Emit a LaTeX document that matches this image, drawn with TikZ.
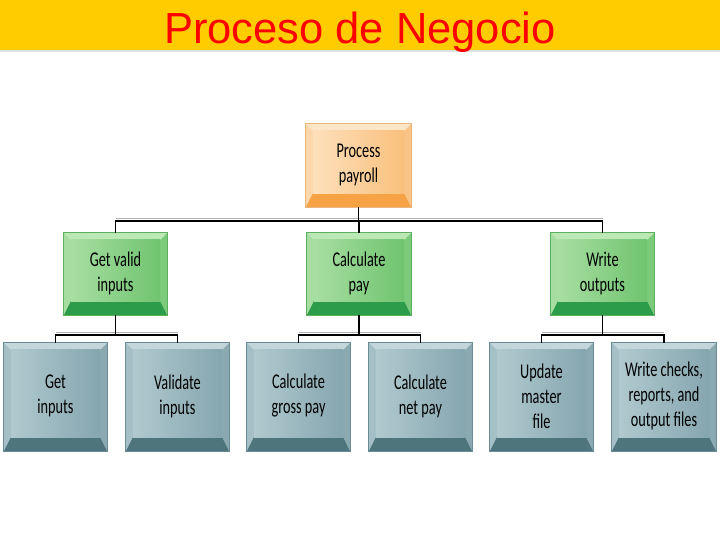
\documentclass[tikz,border=0pt]{standalone}
\usepackage{fontspec}
\setmainfont{Liberation Sans}
\newfontfamily\boxfont[FakeStretch=0.68]{Carlito}
\usetikzlibrary{calc}
\definecolor{titlebar}{HTML}{FFCC00}
\definecolor{titlered}{HTML}{FF0000}
% orange
\definecolor{otop}{HTML}{FDE6C8}\definecolor{oleft}{HTML}{FCD7AA}\definecolor{oright}{HTML}{F9C488}
\definecolor{obot}{HTML}{F7A245}\definecolor{ofl}{HTML}{FDE0BC}\definecolor{ofr}{HTML}{F9C07C}\definecolor{oline}{HTML}{EAB57A}
% green
\definecolor{gtop}{HTML}{BCE8B6}\definecolor{gleft}{HTML}{A6DDA0}\definecolor{gright}{HTML}{7CCB7A}
\definecolor{gbot}{HTML}{2C9C4A}\definecolor{gfl}{HTML}{A8DEA2}\definecolor{gfr}{HTML}{6FC46F}\definecolor{gline}{HTML}{5BAF5E}
% blue-gray
\definecolor{btop}{HTML}{C2D6DB}\definecolor{bleft}{HTML}{A5BFC6}\definecolor{bright}{HTML}{8AA9B1}
\definecolor{bbot}{HTML}{4E747C}\definecolor{bfl}{HTML}{B0C9CF}\definecolor{bfr}{HTML}{86A6AF}\definecolor{bline}{HTML}{6A8C94}
\tikzset{
  boxtext/.style={font=\boxfont\fontsize{21}{25}\selectfont, align=center, text=black, inner sep=0pt},
  conn/.style={draw=black, line width=1.6pt},
  connshadow/.style={draw=black!30, line width=1.6pt},
}
% #1 name, #2 x, #3 y, #4 width, #5 height, #6 colour prefix, #7 text
\newcommand\bevbox[7]{%
  \node[minimum width=#4pt, minimum height=#5pt, inner sep=0pt] (#1) at (#2,#3) {};
  \fill[#6top] (#1.north west) -- (#1.north east) -- ($(#1.north east)+(-7pt,-7pt)$) -- ($(#1.north west)+(7pt,-7pt)$) -- cycle;
  \fill[#6left] (#1.north west) -- ($(#1.north west)+(7pt,-7pt)$) -- ($(#1.south west)+(7pt,14pt)$) -- (#1.south west) -- cycle;
  \fill[#6right] (#1.north east) -- (#1.south east) -- ($(#1.south east)+(-7pt,14pt)$) -- ($(#1.north east)+(-7pt,-7pt)$) -- cycle;
  \fill[#6bot] (#1.south west) -- ($(#1.south west)+(7pt,14pt)$) -- ($(#1.south east)+(-7pt,14pt)$) -- (#1.south east) -- cycle;
  \shade[left color=#6fl, right color=#6fr] ($(#1.north west)+(7pt,-7pt)$) rectangle ($(#1.south east)+(-7pt,14pt)$);
  \draw[#6line, line width=0.8pt] (#1.north west) rectangle (#1.south east);
  \node[boxtext] (#1-t) at ($(#1.center)+(0,1pt)$) {#7};
}
\begin{document}
\begin{tikzpicture}[x=1pt, y=-1pt]
\useasboundingbox (0,0) rectangle (720,540);
\fill[white] (0,0) rectangle (720,540);
% title bar
\fill[titlebar] (0,0) rectangle (720,50);
\fill[black!12] (0,50) rectangle (720,52);
\node[anchor=base, text=titlered, font=\fontsize{43.5}{50}\selectfont, inner sep=0pt] (title) at (360,43.5) {Proceso de Negocio};

% boxes
\bevbox{pp}{358.5}{165.5}{105}{83}{o}{Process\\payroll}
\bevbox{gv}{115.5}{274}{103}{82}{g}{Get valid\\inputs}
\bevbox{cp}{359}{274}{104}{82}{g}{Calculate\\pay}
\bevbox{wo}{602.5}{274}{103}{82}{g}{Write\\outputs}
\bevbox{gi}{55.5}{397}{103}{108}{b}{Get\\inputs}
\bevbox{vi}{177.5}{397}{103}{108}{b}{Validate\\inputs}
\bevbox{cg}{298.5}{397}{103}{108}{b}{Calculate\\gross pay}
\bevbox{cn}{420.5}{397}{103}{108}{b}{Calculate\\net pay}
\bevbox{um}{541.5}{397}{103}{108}{b}{Update\\master\\file}
\bevbox{wc}{664}{397}{104}{108}{b}{Write checks,\\reports, and\\output files}

% junction coordinates
\coordinate (j1) at (358.5,221);
\coordinate (j2) at (115.5,335);
\coordinate (j3) at (359,335);
\coordinate (j4) at (602.5,335);

% shadows
\draw[connshadow] ($(gv.north |- j1)+(0,2.5pt)$) -- ($(wo.north |- j1)+(0,2.5pt)$);
\draw[connshadow] ($(gi.north |- j2)+(0,2.5pt)$) -- ($(vi.north |- j2)+(0,2.5pt)$);
\draw[connshadow] ($(cg.north |- j3)+(0,2.5pt)$) -- ($(cn.north |- j3)+(0,2.5pt)$);
\draw[connshadow] ($(um.north |- j4)+(0,2.5pt)$) -- ($(wc.north |- j4)+(0,2.5pt)$);

% connectors
\draw[conn] (pp.south) -- (j1);
\draw[conn] (gv.north) -- (gv.north |- j1) -- (wo.north |- j1) -- (wo.north);
\draw[conn] (cp.north) -- (cp.north |- j1);

\draw[conn] (gv.south) -- (j2);
\draw[conn] (gi.north) -- (gi.north |- j2) -- (vi.north |- j2) -- (vi.north);
\draw[conn] (cp.south) -- (j3);
\draw[conn] (cg.north) -- (cg.north |- j3) -- (cn.north |- j3) -- (cn.north);
\draw[conn] (wo.south) -- (j4);
\draw[conn] (um.north) -- (um.north |- j4) -- (wc.north |- j4) -- (wc.north);
\end{tikzpicture}
\end{document}
